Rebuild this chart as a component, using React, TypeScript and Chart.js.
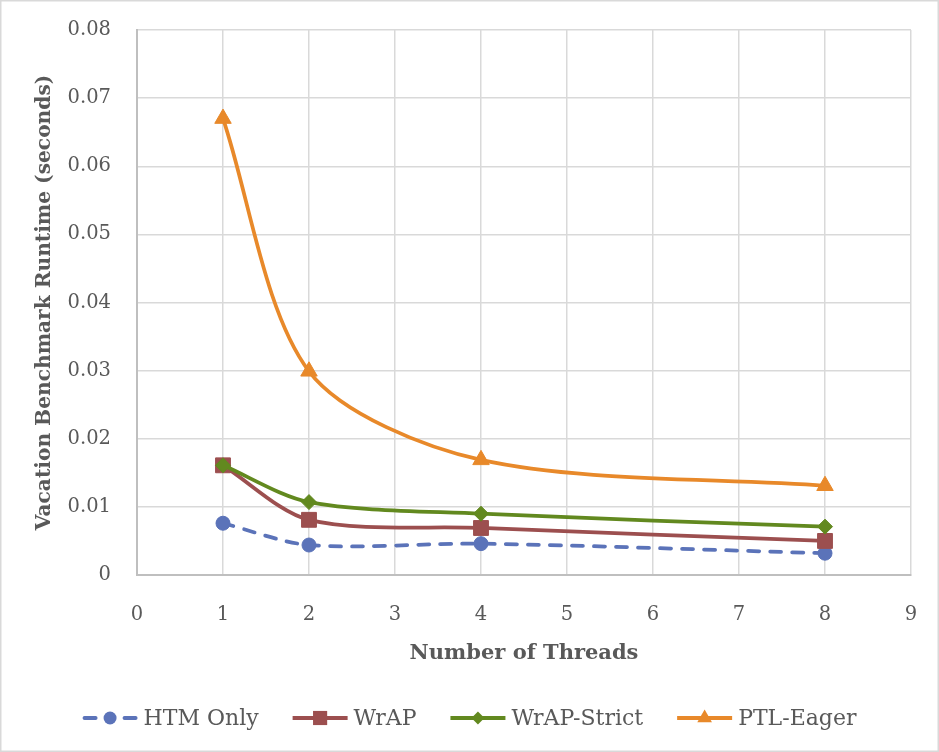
import { useEffect, useRef } from "react";
import { Chart, registerables } from "chart.js";

Chart.register(...registerables);

// data
const threads = [1, 2, 4, 8];
const htmOnly = [0.0076, 0.0044, 0.0046, 0.0032];
const wrap = [0.0161, 0.0081, 0.0069, 0.005];
const wrapStrict = [0.0161, 0.0107, 0.009, 0.0071];
const ptlEager = [0.067, 0.0299, 0.0169, 0.0131];
const seriesNames = ["HTM Only", "WrAP", "WrAP-Strict", "PTL-Eager"];
const xTicks = [0, 1, 2, 3, 4, 5, 6, 7, 8, 9];
const yTicks = [0, 0.01, 0.02, 0.03, 0.04, 0.05, 0.06, 0.07, 0.08];
const yTickLabels = ["0", "0.01", "0.02", "0.03", "0.04", "0.05", "0.06", "0.07", "0.08"];

const FONT = "'DejaVu Serif', serif";
const TEXT = "#595959";

const styles = [
  { color: "#5B73B9", point: "circle", radius: 7, dash: [11, 11], legendR: 6.5 },
  { color: "#9C4F4F", point: "rect", radius: 10.5, dash: [], legendR: 10 },
  { color: "#62891F", point: "rectRot", radius: 7.5, dash: [], legendR: 6.5 },
  { color: "#E8892A", point: "triangle", radius: 9.5, dash: [], legendR: 8.5 },
];

const backgroundPlugin = {
  id: "bgBorder",
  beforeDraw(chart: any) {
    const { ctx, width, height } = chart;
    ctx.save();
    ctx.fillStyle = "#ffffff";
    ctx.fillRect(0, 0, width, height);
    ctx.strokeStyle = "#D9D9D9";
    ctx.lineWidth = 1.5;
    ctx.strokeRect(0.75, 0.75, width - 1.5, height - 1.5);
    ctx.restore();
  },
};

function drawMarker(ctx: CanvasRenderingContext2D, kind: string, x: number, y: number, r: number) {
  ctx.beginPath();
  if (kind === "circle") {
    ctx.arc(x, y, r, 0, Math.PI * 2);
  } else if (kind === "rect") {
    const s = r * Math.SQRT1_2;
    ctx.rect(x - s, y - s, 2 * s, 2 * s);
  } else if (kind === "rectRot") {
    ctx.moveTo(x - r, y);
    ctx.lineTo(x, y - r);
    ctx.lineTo(x + r, y);
    ctx.lineTo(x, y + r);
    ctx.closePath();
  } else {
    ctx.moveTo(x, y - r);
    ctx.lineTo(x + r * 0.866, y + r / 2);
    ctx.lineTo(x - r * 0.866, y + r / 2);
    ctx.closePath();
  }
  ctx.fill();
}

// Excel-like legend: a line sample with the marker, then the name
const legendPlugin = {
  id: "excelLegend",
  afterDraw(chart: any) {
    const { ctx } = chart;
    const y = 718;
    const sampleW = 55;
    const gapText = 6;
    const gapItem = 34;
    ctx.save();
    ctx.font = `22px ${FONT}`;
    ctx.textBaseline = "middle";
    const items = chart.data.datasets.map((ds: any, i: number) => ({
      label: ds.label as string,
      st: styles[i],
      w: sampleW + gapText + ctx.measureText(ds.label).width,
    }));
    const total = items.reduce((s: number, it: any) => s + it.w, 0) + gapItem * (items.length - 1);
    let x = (chart.width - total) / 2;
    for (const it of items) {
      ctx.strokeStyle = it.st.color;
      ctx.fillStyle = it.st.color;
      ctx.lineWidth = 4;
      ctx.lineCap = "round";
      ctx.beginPath();
      if (it.st.dash.length) {
        ctx.moveTo(x + 2, y);
        ctx.lineTo(x + 13, y);
        ctx.moveTo(x + sampleW - 13, y);
        ctx.lineTo(x + sampleW - 2, y);
      } else {
        ctx.lineCap = "butt";
        ctx.moveTo(x, y);
        ctx.lineTo(x + sampleW, y);
      }
      ctx.stroke();
      drawMarker(ctx, it.st.point, x + sampleW / 2, y, it.st.legendR);
      ctx.fillStyle = TEXT;
      ctx.textAlign = "left";
      ctx.fillText(it.label, x + sampleW + gapText, y + 1);
      x += it.w + gapItem;
    }
    ctx.restore();
  },
};

export default function App() {
  const canvasRef = useRef<HTMLCanvasElement>(null);

  useEffect(() => {
    document.body.style.margin = "0";
    if (!canvasRef.current) return;

    const seriesValues = [htmOnly, wrap, wrapStrict, ptlEager];

    const chart = new Chart(canvasRef.current, {
      type: "scatter",
      data: {
        datasets: seriesValues.map((vals, i) => ({
          label: seriesNames[i],
          data: threads.map((t, j) => ({ x: t, y: vals[j] })),
          showLine: true,
          tension: 0.3,
          borderColor: styles[i].color,
          backgroundColor: styles[i].color,
          borderWidth: 3.75,
          borderDash: styles[i].dash,
          borderCapStyle: styles[i].dash.length ? "round" : "butt",
          pointStyle: styles[i].point as any,
          pointRadius: styles[i].radius,
          pointBackgroundColor: styles[i].color,
          pointBorderColor: styles[i].color,
          pointBorderWidth: 1,
          order: seriesValues.length - i,
        })),
      },
      options: {
        responsive: false,
        animation: false,
        layout: { padding: { top: 30, right: 28, left: 0, bottom: 0 } },
        plugins: {
          legend: { display: false },
          tooltip: { enabled: false },
        },
        scales: {
          x: {
            type: "linear",
            min: 0,
            max: 9,
            afterBuildTicks: (scale: any) => {
              scale.ticks = xTicks.map((v) => ({ value: v }));
            },
            afterFit: (scale: any) => {
              scale.height = 177;
              scale.paddingLeft = 0;
              scale.paddingRight = 0;
            },
            ticks: {
              color: TEXT,
              font: { family: FONT, size: 19.5 },
              padding: 28,
              callback: (v: any) => String(v),
            },
            grid: { color: "#D9D9D9", lineWidth: 1.5, drawTicks: false },
            border: { color: "#BFBFBF", width: 2 },
            title: {
              display: true,
              text: "Number of Threads",
              color: TEXT,
              font: { family: FONT, size: 21, weight: "bold" },
              padding: { top: 0, bottom: 86 },
            },
          },
          y: {
            type: "linear",
            min: 0,
            max: 0.08,
            afterBuildTicks: (scale: any) => {
              scale.ticks = yTicks.map((v) => ({ value: v }));
            },
            afterFit: (scale: any) => {
              scale.width = 137;
              scale.paddingTop = 0;
              scale.paddingBottom = 0;
            },
            ticks: {
              color: TEXT,
              font: { family: FONT, size: 19.5 },
              padding: 26,
              callback: (_v: any, i: number) => yTickLabels[i],
            },
            grid: { color: "#D9D9D9", lineWidth: 1.5, drawTicks: false },
            border: { color: "#BFBFBF", width: 2 },
            title: {
              display: true,
              text: "Vacation Benchmark Runtime (seconds)",
              color: TEXT,
              font: { family: FONT, size: 20.2, weight: "bold" },
              padding: { top: 33, bottom: 0 },
            },
          },
        },
      },
      plugins: [backgroundPlugin, legendPlugin],
    });

    return () => {
      chart.destroy();
    };
  }, []);

  return (
    <div style={{ width: 939, height: 752 }}>
      <canvas ref={canvasRef} width={939} height={752}></canvas>
    </div>
  );
}
